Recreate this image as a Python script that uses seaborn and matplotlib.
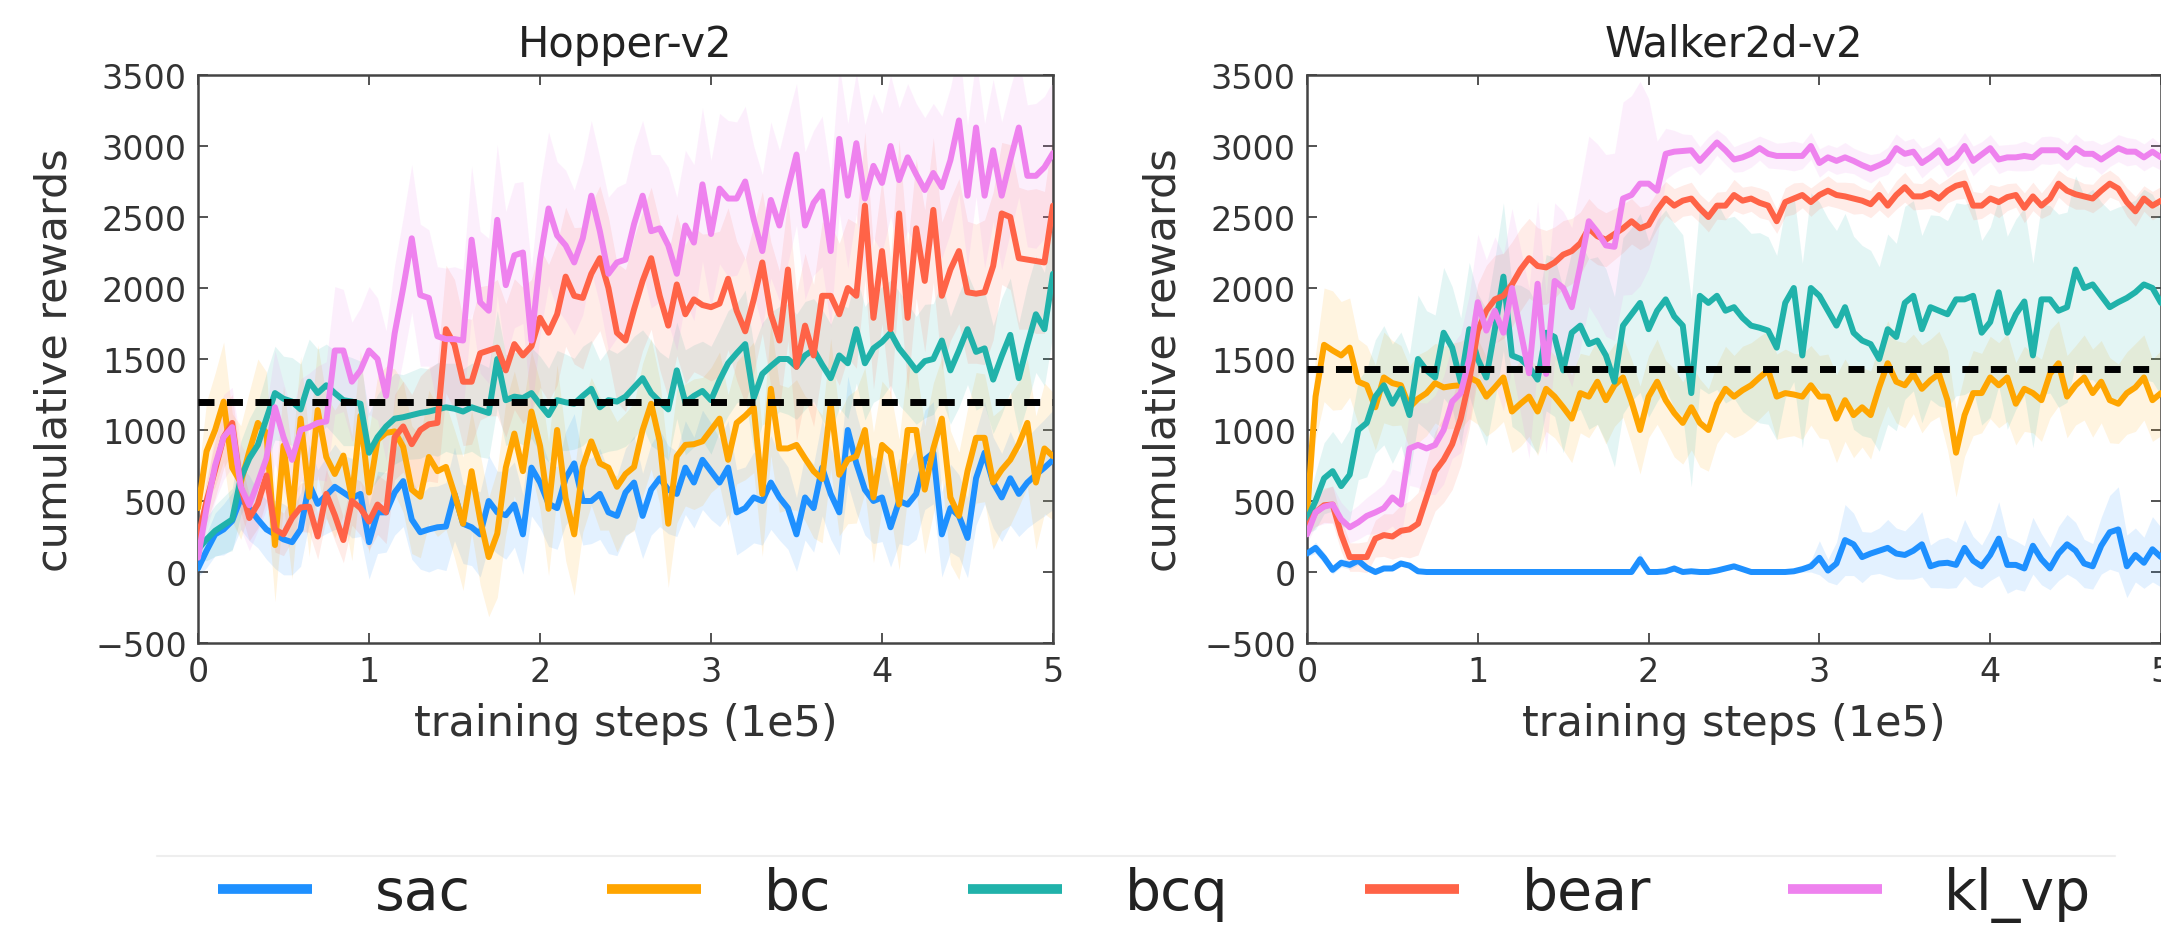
import numpy as np
import pandas as pd
import matplotlib
matplotlib.use("Agg")
import matplotlib.pyplot as plt
import seaborn as sns
from matplotlib.lines import Line2D

# ---------------- data ----------------
steps = np.linspace(0, 5, 101)  # training steps (1e5)

algos = ["sac", "bc", "bcq", "bear", "kl_vp"]
colors = ["#1E90FF", "#FFA500", "#20B2AA", "#FF6347", "#EE82EE"]
envs = ["Hopper-v2", "Walker2d-v2"]
baselines = [1200, 1430]

hopper_sac = [25, 150, 265, 300, 360, 520, 450, 370, 300, 265,
              230, 210, 300, 620, 480, 540, 600, 560, 520, 550,
              210, 420, 420, 560, 640, 370, 280, 300, 315, 320,
              550, 340, 315, 265, 500, 420, 400, 475, 265, 735,
              630, 480, 450, 660, 765, 500, 500, 550, 420, 395,
              560, 630, 395, 580, 660, 580, 550, 735, 630, 790,
              710, 630, 735, 420, 450, 525, 500, 630, 525, 450,
              265, 525, 450, 735, 550, 420, 1000, 765, 580, 500,
              525, 315, 500, 475, 550, 790, 840, 265, 450, 395,
              240, 660, 840, 630, 525, 660, 550, 630, 685, 735,
              790]
hopper_bc = [450, 850, 1000, 1200, 735, 630, 850, 1050, 980, 190,
             890, 400, 1080, 530, 1140, 810, 690, 820, 520, 1100,
             560, 930, 980, 990, 880, 580, 530, 810, 710, 740,
             550, 340, 710, 370, 105, 270, 735, 975, 710, 1130,
             890, 445, 1000, 520, 265, 740, 920, 765, 735, 600,
             690, 740, 1000, 1185, 920, 340, 815, 895, 900, 920,
             1000, 1080, 790, 1050, 1100, 1160, 550, 1290, 870, 870,
             895, 800, 710, 655, 1185, 685, 790, 815, 1000, 525,
             895, 840, 475, 1000, 1000, 580, 870, 1080, 525, 395,
             710, 945, 945, 630, 720, 790, 900, 1050, 630, 870,
             815]
hopper_bcq = [160, 230, 290, 330, 370, 660, 800, 895, 1080, 1260,
              1220, 1200, 1145, 1340, 1260, 1315, 1260, 1210, 1200, 1185,
              840, 950, 1025, 1080, 1090, 1105, 1120, 1130, 1145, 1160,
              1150, 1130, 1160, 1140, 1120, 1500, 1210, 1235, 1225, 1260,
              1180, 1105, 1210, 1195, 1185, 1240, 1290, 1160, 1210, 1200,
              1235, 1300, 1365, 1260, 1200, 1145, 1420, 1195, 1240, 1275,
              1210, 1350, 1470, 1540, 1605, 1225, 1395, 1450, 1500, 1500,
              1445, 1525, 1565, 1460, 1365, 1525, 1470, 1710, 1470, 1575,
              1620, 1685, 1575, 1500, 1420, 1485, 1500, 1630, 1420, 1560,
              1710, 1550, 1575, 1355, 1520, 1670, 1365, 1600, 1815, 1710,
              2100]
hopper_bear = [240, 500, 720, 950, 1050, 600, 380, 480, 680, 300,
               265, 380, 455, 460, 250, 550, 400, 225, 500, 450,
               355, 475, 420, 950, 1025, 900, 1000, 1040, 1050, 1710,
               1600, 1340, 1340, 1540, 1560, 1580, 1420, 1605, 1525, 1590,
               1790, 1685, 1815, 2080, 1945, 1930, 2100, 2210, 2000, 1685,
               1630, 1850, 2050, 2210, 1945, 1735, 2025, 1815, 1920, 1880,
               1865, 1890, 2065, 1840, 1695, 1920, 2180, 1815, 1630, 2130,
               1445, 1735, 1525, 1945, 1945, 1815, 2000, 1945, 2580, 1790,
               2260, 1710, 2525, 1790, 2420, 2050, 2550, 1945, 2130, 2260,
               1970, 1960, 1970, 2155, 2525, 2500, 2210, 2200, 2190, 2180,
               2580]
hopper_klvp = [100, 450, 750, 950, 1020, 600, 470, 630, 800, 1160,
               950, 790, 1000, 1020, 1050, 1060, 1560, 1560, 1340, 1420,
               1560, 1500, 1240, 1680, 2000, 2350, 1950, 1930, 1660, 1640,
               1640, 1630, 2340, 1900, 1840, 2480, 2020, 2230, 2250, 1630,
               2200, 2560, 2370, 2300, 2180, 2350, 2650, 2400, 2100, 2180,
               2200, 2450, 2650, 2400, 2420, 2300, 2100, 2440, 2320, 2730,
               2380, 2700, 2630, 2630, 2750, 2480, 2260, 2620, 2440, 2700,
               2940, 2440, 2600, 2680, 2260, 3050, 2650, 3020, 2630, 2860,
               2740, 3000, 2760, 2920, 2800, 2690, 2810, 2710, 2900, 3180,
               2650, 3130, 2650, 2970, 2650, 2900, 3130, 2790, 2790, 2850,
               2950]

walker_sac = [130, 170, 100, 15, 65, 50, 80, 30, 0, 25,
              25, 60, 45, 5, 0, 0, 0, 0, 0, 0,
              0, 0, 0, 0, 0, 0, 0, 0, 0, 0,
              0, 0, 0, 0, 0, 0, 0, 0, 0, 90,
              0, 0, 5, 25, 0, 5, 0, 0, 10, 25,
              40, 20, 0, 0, 0, 0, 0, 5, 20, 40,
              100, 10, 60, 225, 195, 105, 130, 150, 170, 130,
              120, 150, 195, 40, 60, 65, 50, 170, 80, 40,
              120, 235, 50, 50, 25, 185, 90, 25, 130, 195,
              150, 60, 40, 185, 280, 300, 40, 120, 65, 160,
              105]
walker_bc = [400, 1235, 1600, 1560, 1525, 1580, 1340, 1315, 1160, 1370,
             1330, 1315, 1160, 1220, 1260, 1330, 1300, 1310, 1315, 1370,
             1340, 1235, 1300, 1370, 1130, 1185, 1235, 1130, 1290, 1235,
             1160, 1080, 1260, 1235, 1340, 1210, 1315, 1370, 1200, 1000,
             1235, 1340, 1210, 1120, 1050, 1160, 1050, 1000, 1185, 1290,
             1235, 1280, 1315, 1370, 1420, 1235, 1260, 1250, 1235, 1315,
             1235, 1235, 1080, 1210, 1105, 1160, 1105, 1300, 1470, 1340,
             1315, 1395, 1290, 1350, 1395, 1210, 840, 1105, 1260, 1260,
             1370, 1315, 1370, 1185, 1290, 1260, 1210, 1395, 1470, 1235,
             1315, 1370, 1260, 1340, 1210, 1185, 1260, 1300, 1370, 1210,
             1260]
walker_bcq = [370, 500, 660, 710, 605, 685, 1000, 1050, 1235, 1315,
              1185, 1290, 1105, 1500, 1420, 1370, 1685, 1580, 1340, 1710,
              1500, 1370, 1710, 2080, 1525, 1500, 1445, 1355, 1685, 1655,
              1420, 1685, 1735, 1605, 1630, 1525, 1340, 1735, 1815, 1895,
              1710, 1840, 1920, 1800, 1735, 1260, 1945, 1895, 1945, 1840,
              1865, 1790, 1735, 1720, 1700, 1580, 1895, 2000, 1525, 2000,
              1945, 1840, 1735, 1865, 1685, 1630, 1605, 1500, 1710, 1655,
              1895, 1945, 1710, 1865, 1840, 1815, 1920, 1920, 1945, 1685,
              1760, 1970, 1685, 1815, 1905, 1525, 1920, 1920, 1840, 1865,
              2130, 2000, 2025, 1945, 1865, 1900, 1930, 1970, 2025, 2000,
              1895]
walker_bear = [315, 420, 470, 475, 265, 105, 105, 105, 235, 260,
               250, 290, 300, 340, 525, 710, 790, 900, 1080, 1350,
               1700, 1840, 1920, 1945, 2025, 2130, 2210, 2155, 2145, 2180,
               2235, 2260, 2315, 2420, 2365, 2340, 2380, 2420, 2470, 2420,
               2445, 2550, 2630, 2580, 2615, 2630, 2560, 2500, 2580, 2580,
               2655, 2615, 2630, 2600, 2580, 2470, 2605, 2630, 2655, 2605,
               2655, 2685, 2655, 2645, 2630, 2615, 2590, 2655, 2580, 2655,
               2710, 2645, 2645, 2670, 2630, 2685, 2720, 2735, 2580, 2580,
               2630, 2605, 2640, 2655, 2565, 2645, 2580, 2630, 2735, 2685,
               2660, 2645, 2630, 2685, 2735, 2700, 2605, 2540, 2630, 2580,
               2615]
walker_klvp = [265, 420, 460, 475, 370, 315, 350, 395, 420, 450,
               525, 475, 870, 895, 870, 895, 1000, 1200, 1260, 1500,
               1900, 1700, 1840, 1685, 2000, 1700, 1400, 2030, 1395, 2050,
               2000, 1865, 2155, 2470, 2395, 2300, 2290, 2630, 2655, 2735,
               2735, 2685, 2945, 2960, 2965, 2970, 2895, 2960, 3025, 2970,
               2905, 2920, 2945, 2985, 2945, 2930, 2930, 2930, 2930, 3000,
               2880, 2920, 2895, 2920, 2895, 2865, 2840, 2865, 2895, 2985,
               2945, 2960, 2880, 2920, 2970, 2880, 2920, 3000, 2895, 2940,
               2985, 2905, 2920, 2920, 2930, 2920, 2970, 2970, 2970, 2920,
               2985, 2945, 2945, 2905, 2945, 2985, 2960, 2960, 2920, 2960,
               2920]

# spread (std) of each curve
hopper_sac_sd = [60, 120, 150, 180, 200, 220, 230, 200, 210, 240,
                 250, 230, 260, 280, 240, 270, 300, 260, 280, 300,
                 260, 290, 280, 300, 320, 280, 260, 300, 290, 310,
                 330, 280, 270, 300, 320, 290, 310, 300, 280, 340,
                 320, 300, 290, 330, 350, 310, 300, 320, 290, 280,
                 310, 330, 300, 320, 340, 310, 300, 330, 320, 350,
                 340, 310, 330, 300, 290, 320, 310, 330, 300, 290,
                 260, 300, 310, 340, 320, 300, 380, 350, 320, 300,
                 310, 280, 300, 290, 320, 350, 360, 300, 310, 290,
                 280, 330, 360, 320, 310, 330, 300, 320, 330, 340,
                 350]
hopper_bc_sd = [200, 350, 400, 420, 380, 400, 420, 450, 430, 400,
                420, 450, 440, 420, 460, 430, 450, 420, 440, 460,
                430, 450, 470, 440, 460, 450, 430, 470, 460, 440,
                450, 470, 430, 460, 420, 450, 470, 440, 460, 430,
                450, 470, 460, 440, 430, 460, 450, 470, 440, 460,
                430, 450, 470, 460, 440, 450, 470, 430, 460, 450,
                440, 470, 460, 430, 450, 460, 440, 470, 450, 430,
                460, 440, 470, 450, 460, 430, 450, 470, 440, 460,
                450, 430, 460, 470, 440, 450, 460, 430, 470, 450,
                440, 460, 450, 470, 430, 460, 440, 450, 470, 460,
                450]
hopper_bcq_sd = [80, 150, 180, 200, 220, 260, 280, 300, 320, 330,
                 300, 310, 320, 300, 310, 290, 300, 320, 310, 300,
                 280, 300, 310, 320, 300, 310, 320, 300, 330, 310,
                 320, 300, 310, 330, 320, 340, 320, 310, 330, 320,
                 340, 330, 350, 340, 320, 350, 340, 330, 360, 340,
                 350, 360, 340, 370, 350, 360, 340, 370, 360, 350,
                 380, 360, 370, 350, 380, 370, 360, 380, 370, 390,
                 370, 380, 360, 390, 380, 370, 390, 380, 400, 380,
                 390, 370, 400, 390, 380, 400, 390, 410, 380, 400,
                 390, 410, 400, 380, 410, 400, 390, 420, 410, 400,
                 420]
hopper_bear_sd = [80, 150, 200, 220, 200, 180, 160, 170, 180, 160,
                  150, 160, 170, 180, 160, 170, 180, 160, 170, 190,
                  200, 210, 220, 300, 320, 350, 380, 400, 420, 450,
                  460, 450, 440, 470, 460, 480, 470, 460, 480, 470,
                  490, 480, 500, 490, 480, 500, 490, 510, 500, 490,
                  500, 510, 490, 500, 520, 510, 500, 490, 510, 500,
                  520, 510, 500, 490, 510, 520, 500, 510, 490, 500,
                  520, 510, 500, 520, 510, 500, 490, 510, 520, 500,
                  510, 500, 520, 510, 490, 500, 510, 520, 500, 510,
                  500, 490, 510, 520, 500, 510, 500, 490, 510, 500,
                  520]
hopper_klvp_sd = [60, 150, 250, 300, 280, 300, 320, 340, 360, 400,
                  380, 350, 360, 380, 400, 420, 450, 430, 420, 440,
                  450, 430, 460, 480, 500, 520, 500, 480, 490, 500,
                  510, 500, 520, 500, 510, 530, 520, 510, 500, 520,
                  530, 540, 520, 530, 510, 540, 530, 520, 540, 530,
                  540, 550, 530, 540, 520, 550, 540, 530, 550, 540,
                  520, 530, 550, 540, 530, 520, 540, 550, 530, 520,
                  500, 520, 510, 530, 540, 520, 510, 500, 520, 510,
                  490, 500, 510, 520, 500, 510, 490, 500, 510, 520,
                  500, 490, 510, 500, 520, 510, 490, 500, 510, 500,
                  510]

walker_sac_sd = [20, 40, 40, 30, 30, 30, 30, 25, 20, 20,
                 20, 20, 20, 15, 10, 10, 10, 10, 10, 10,
                 10, 10, 10, 10, 10, 10, 10, 10, 10, 10,
                 10, 10, 10, 10, 10, 10, 10, 10, 10, 50,
                 10, 10, 10, 15, 10, 10, 10, 10, 10, 15,
                 20, 15, 10, 10, 10, 10, 10, 15, 20, 40,
                 120, 80, 150, 250, 220, 180, 150, 160, 200, 180,
                 170, 200, 230, 150, 170, 180, 160, 200, 170, 150,
                 180, 260, 200, 170, 160, 200, 180, 150, 190, 210,
                 200, 170, 160, 200, 260, 300, 220, 190, 180, 230,
                 210]
walker_bc_sd = [150, 300, 400, 420, 380, 350, 300, 280, 300, 320,
                300, 280, 290, 310, 300, 280, 290, 300, 310, 290,
                300, 280, 300, 310, 290, 300, 280, 310, 300, 290,
                300, 310, 280, 290, 300, 310, 290, 280, 300, 310,
                290, 300, 280, 310, 290, 300, 310, 290, 280, 300,
                290, 310, 300, 290, 280, 300, 310, 290, 300, 280,
                290, 300, 310, 290, 300, 280, 310, 290, 300, 290,
                300, 280, 310, 290, 300, 350, 310, 290, 300, 280,
                290, 300, 310, 290, 300, 280, 290, 310, 300, 290,
                280, 300, 310, 290, 300, 280, 290, 310, 300, 290,
                300]
walker_bcq_sd = [100, 200, 250, 280, 300, 320, 350, 380, 400, 420,
                 420, 400, 430, 450, 420, 440, 460, 430, 450, 470,
                 460, 480, 500, 520, 500, 520, 540, 520, 550, 560,
                 580, 570, 590, 600, 590, 610, 600, 620, 610, 630,
                 620, 640, 630, 650, 640, 660, 650, 640, 660, 650,
                 640, 660, 650, 670, 660, 650, 670, 660, 650, 670,
                 660, 650, 670, 660, 680, 670, 660, 650, 670, 660,
                 680, 670, 660, 650, 670, 660, 680, 670, 660, 650,
                 670, 660, 680, 670, 660, 650, 670, 660, 680, 670,
                 660, 650, 670, 660, 680, 670, 660, 650, 670, 660,
                 650]
walker_bear_sd = [60, 100, 120, 130, 120, 100, 100, 110, 130, 150,
                  160, 180, 200, 220, 250, 280, 300, 320, 330, 340,
                  330, 320, 310, 300, 300, 290, 280, 270, 260, 250,
                  240, 230, 220, 210, 200, 190, 180, 170, 160, 150,
                  140, 130, 120, 120, 110, 115, 100, 105, 95, 100,
                  110, 95, 90, 105, 100, 85, 100, 110, 90, 100,
                  95, 105, 90, 100, 110, 90, 95, 105, 85, 100,
                  105, 95, 90, 110, 100, 85, 95, 105, 100, 90,
                  100, 110, 95, 85, 105, 100, 90, 110, 95, 100,
                  105, 90, 100, 110, 95, 85, 100, 105, 90, 100,
                  100]
walker_klvp_sd = [60, 100, 120, 130, 120, 110, 120, 130, 150, 170,
                  200, 230, 260, 300, 320, 350, 380, 400, 420, 450,
                  480, 500, 520, 550, 560, 580, 600, 580, 560, 550,
                  540, 560, 580, 600, 620, 640, 660, 680, 700, 720,
                  600, 350, 180, 150, 120, 110, 100, 105, 90, 100,
                  90, 100, 95, 85, 100, 90, 95, 105, 90, 95,
                  100, 90, 95, 105, 90, 95, 100, 85, 95, 100,
                  90, 95, 105, 90, 95, 100, 90, 95, 105, 90,
                  95, 100, 90, 95, 105, 90, 95, 100, 90, 95,
                  100, 90, 95, 105, 90, 95, 100, 90, 95, 100,
                  90]

means = {
    "Hopper-v2": [hopper_sac, hopper_bc, hopper_bcq, hopper_bear, hopper_klvp],
    "Walker2d-v2": [walker_sac, walker_bc, walker_bcq, walker_bear, walker_klvp],
}
sds = {
    "Hopper-v2": [hopper_sac_sd, hopper_bc_sd, hopper_bcq_sd, hopper_bear_sd, hopper_klvp_sd],
    "Walker2d-v2": [walker_sac_sd, walker_bc_sd, walker_bcq_sd, walker_bear_sd, walker_klvp_sd],
}

frames = []
for env in envs:
    for algo, m, s in zip(algos, means[env], sds[env]):
        assert len(m) == 101 and len(s) == 101, (env, algo, len(m), len(s))
        frames.append(pd.DataFrame({"env": env, "algo": algo, "step": steps,
                                    "reward": m, "sd": s}))
df = pd.concat(frames, ignore_index=True)
df["lo"] = df["reward"] - df["sd"]
df["hi"] = df["reward"] + df["sd"]

# ---------------- style ----------------
sns.set_style("ticks")
plt.rcParams["font.family"] = ["DejaVu Sans"]
plt.rcParams["axes.unicode_minus"] = True

W, H = 2161, 928
fig = plt.figure(figsize=(W / 100, H / 100), dpi=100)
ax_pos = [
    [198 / W, 1 - 644 / H, 855 / W, 568 / H],
    [1307 / W, 1 - 644 / H, 854 / W, 568 / H],
]
text_col = "#333333"

for pos, env, base in zip(ax_pos, envs, baselines):
    ax = fig.add_axes(pos)
    d = df[df["env"] == env]
    for algo, c in zip(algos, colors):
        dd = d[d["algo"] == algo]
        ax.fill_between(dd["step"], dd["lo"], dd["hi"], color=c, alpha=0.12,
                        linewidth=0, zorder=1)
    sns.lineplot(data=d, x="step", y="reward", hue="algo", hue_order=algos,
                 palette=colors, linewidth=4.3, errorbar=None, legend=False,
                 ax=ax, zorder=3)
    ax.axhline(base, color="black", lw=5, linestyle=(0, (2.3, 1.8)), zorder=5)
    ax.set_xlim(0, 5)
    ax.set_ylim(-500, 3500)
    ax.set_xticks(range(0, 6))
    ax.set_yticks(range(-500, 3501, 500))
    ax.set_title(env, fontsize=30, pad=14, color="#222222")
    ax.set_xlabel("training steps (1e5)", fontsize=31, labelpad=10, color=text_col)
    ax.set_ylabel("cumulative rewards", fontsize=31, labelpad=14, color=text_col)
    ax.tick_params(direction="in", top=True, right=True, length=7, width=1.3,
                   labelsize=24, colors="#444444", labelcolor=text_col)
    ax.tick_params(axis="x", pad=9)
    ax.tick_params(axis="y", pad=8)
    for sp in ax.spines.values():
        sp.set_color("#444444")
        sp.set_linewidth(1.8)

# ---------------- legend ----------------
handles = [Line2D([], [], color=c, lw=7, solid_capstyle="butt") for c in colors]
fig.legend(handles, algos, loc="center left", bbox_to_anchor=(218 / W, 1 - 895 / H),
           ncol=5, frameon=False, fontsize=41, handlelength=1.65, handletextpad=1.1,
           columnspacing=2.4, borderpad=0, borderaxespad=0, labelcolor="#222222")
fig.add_artist(Line2D([157 / W, 2115 / W], [1 - 857 / H, 1 - 857 / H],
                      transform=fig.transFigure, color="#eeeeee", lw=1.5))

fig.savefig("out.png", dpi=100)
